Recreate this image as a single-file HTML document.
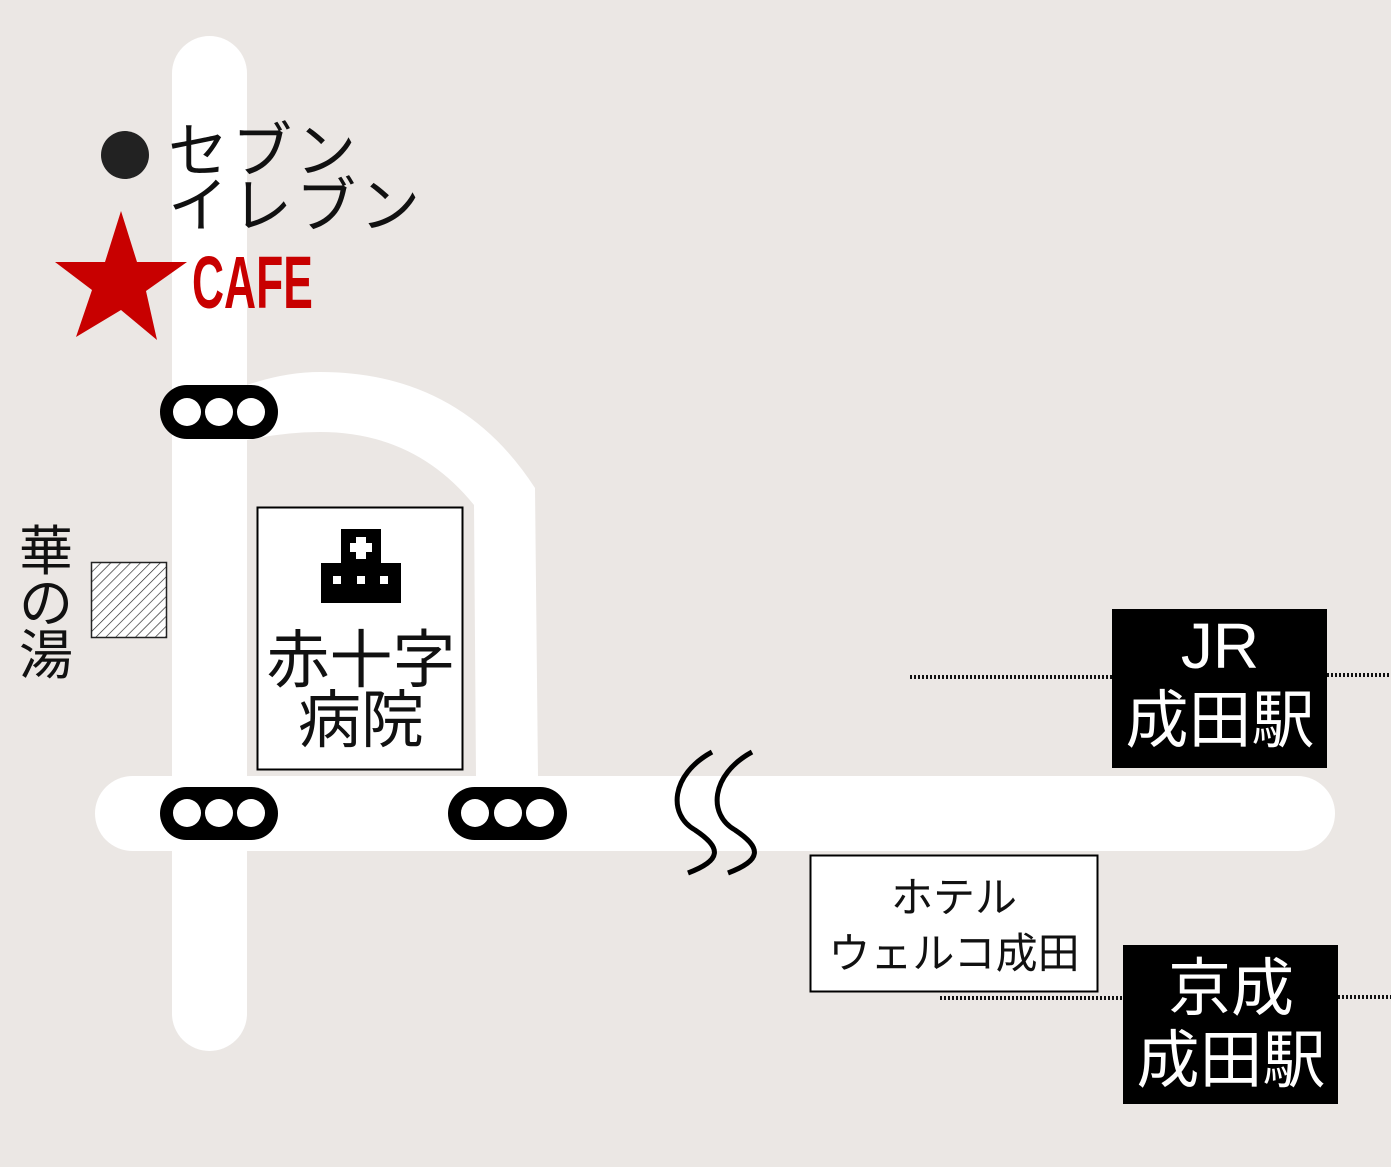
<!DOCTYPE html>
<html><head><meta charset="utf-8"><style>
html,body{margin:0;padding:0;background:#ebe7e4;}
svg{display:block;}
text{font-family:"Liberation Sans","Noto Sans CJK JP",sans-serif;}
</style></head><body>
<svg width="1391" height="1167" viewBox="0 0 1391 1167" xmlns="http://www.w3.org/2000/svg">
<defs>
<pattern id="h" width="7" height="7" patternUnits="userSpaceOnUse" patternTransform="rotate(45)">
<rect width="7" height="7" fill="#fff"/><line x1="0" y1="0" x2="0" y2="7" stroke="#222" stroke-width="1.3"/>
</pattern>
</defs>
<rect width="1391" height="1167" fill="#ebe7e4"/>
<rect x="172" y="36" width="75" height="1015" rx="37.5" fill="#fff"/>
<rect x="95" y="776" width="1240" height="75" rx="37.5" fill="#fff"/>
<path d="M247,385 Q285,372 320,372 Q460,372 535,488 L538,776 L476,776 L474,505 Q415,432 320,432 Q285,432 247,440 Z" fill="#fff"/>
<g>
<rect x="160" y="385" width="118" height="54" rx="27" fill="#000"/>
<circle cx="187" cy="412" r="14" fill="#fff"/><circle cx="219" cy="412" r="14" fill="#fff"/><circle cx="251" cy="412" r="14" fill="#fff"/>
</g>
<g>
<rect x="160" y="787" width="118" height="53" rx="26.5" fill="#000"/>
<circle cx="187" cy="813" r="14" fill="#fff"/><circle cx="219" cy="813" r="14" fill="#fff"/><circle cx="251" cy="813" r="14" fill="#fff"/>
</g>
<g>
<rect x="448" y="787" width="119" height="53" rx="26.5" fill="#000"/>
<circle cx="475" cy="813" r="14" fill="#fff"/><circle cx="508" cy="813" r="14" fill="#fff"/><circle cx="540" cy="813" r="14" fill="#fff"/>
</g>
<path d="M712,752 C670,775 668,815 695,830 C722,848 722,860 688,873" fill="none" stroke="#000" stroke-width="5"/>
<path d="M752,752 C710,775 708,815 735,830 C762,848 762,860 728,873" fill="none" stroke="#000" stroke-width="5"/>
<circle cx="125" cy="155" r="24" fill="#222"/>
<text x="168" y="172" font-size="60" letter-spacing="4" fill="#111">セブン</text>
<text x="168" y="227" font-size="60" letter-spacing="4" fill="#111">イレブン</text>
<polygon points="121,211 137,262 187,262 146,291 157,340 121,310 76,337 92,290 55,262 105,262" fill="#c80000"/>
<text x="0" y="0" font-size="74" font-weight="bold" fill="#c80000" transform="translate(192,308) scale(0.6,1)">CAFE</text>
<rect x="257.5" y="507.5" width="205" height="262" fill="#fff" stroke="#000" stroke-width="2"/>
<rect x="341" y="529" width="40" height="35" fill="#000"/>
<rect x="321" y="563" width="80" height="40" fill="#000"/>
<rect x="356" y="537" width="10" height="22" fill="#fff"/><rect x="350" y="543" width="22" height="9" fill="#fff"/>
<rect x="333" y="576" width="8" height="8" fill="#fff"/><rect x="357" y="576" width="8" height="8" fill="#fff"/><rect x="380" y="576" width="8" height="8" fill="#fff"/>
<text x="361" y="682" font-size="63" fill="#111" text-anchor="middle">赤十字</text>
<text x="361" y="742" font-size="63" fill="#111" text-anchor="middle">病院</text>
<text x="46" y="570" font-size="54" fill="#111" text-anchor="middle">華</text>
<text x="46" y="622" font-size="54" fill="#111" text-anchor="middle">の</text>
<text x="46" y="674" font-size="54" fill="#111" text-anchor="middle">湯</text>
<rect x="91.5" y="562.5" width="75" height="75" fill="url(#h)" stroke="#222" stroke-width="1.5"/>
<line x1="910" y1="677" x2="1112" y2="677" stroke="#111" stroke-width="4" stroke-dasharray="2,2"/>
<line x1="1327" y1="675" x2="1391" y2="675" stroke="#111" stroke-width="4" stroke-dasharray="2,2"/>
<line x1="940" y1="998" x2="1123" y2="998" stroke="#111" stroke-width="4" stroke-dasharray="2,2"/>
<line x1="1338" y1="997" x2="1391" y2="997" stroke="#111" stroke-width="4" stroke-dasharray="2,2"/>
<rect x="1112" y="609" width="215" height="159" fill="#000"/>
<text x="1220" y="668" font-size="64" fill="#fff" text-anchor="middle">JR</text>
<text x="1220" y="742" font-size="63" fill="#fff" text-anchor="middle">成田駅</text>
<rect x="1123" y="945" width="215" height="159" fill="#000"/>
<text x="1231" y="1010" font-size="63" fill="#fff" text-anchor="middle">京成</text>
<text x="1231" y="1082" font-size="63" fill="#fff" text-anchor="middle">成田駅</text>
<rect x="810.5" y="855.5" width="287" height="136" fill="#fff" stroke="#000" stroke-width="2"/>
<text x="954" y="912" font-size="42" fill="#111" text-anchor="middle">ホテル</text>
<text x="954" y="968" font-size="42" fill="#111" text-anchor="middle">ウェルコ成田</text>
</svg>
</body></html>
